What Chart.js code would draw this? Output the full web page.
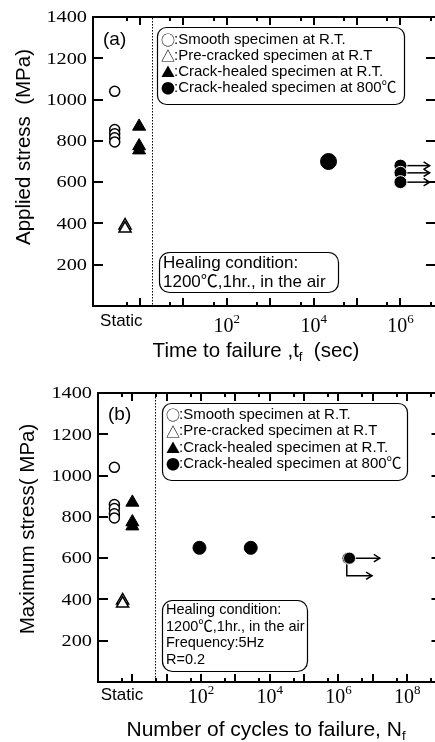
<!DOCTYPE html>
<html>
<head>
<meta charset="utf-8">
<script src="https://cdn.jsdelivr.net/npm/chart.js@4.4.0/dist/chart.umd.min.js"></script>
<style>
  html, body { margin: 0; padding: 0; background: #fff; overflow: hidden; width: 435px; height: 742px; }
  canvas { position: absolute; left: 0; }
  #chartA { top: 0; }
  #chartB { top: 371px; }
</style>
</head>
<body>
<canvas id="chartA" width="450" height="371"></canvas>
<canvas id="chartB" width="450" height="371"></canvas>
<script>
// ---- data, panel (a): static strength + static fatigue (time to failure, sec)
const aStaticPos = [0.26, 0.45, 0.95];           // x place of the three "Static" columns
const aSmoothStress = [1040, 855, 835, 815, 795];
const aPreCrackStress = [390, 375];
const aHealedRTStress = [870, 775, 755];
const aHealed800Time = [2.2e4];
const aHealed800Stress = [700];
const aRunoutTime = [1e6, 1e6, 1e6];
const aRunoutStress = [680, 645, 600];
const aArrowEnd = 4.7e6;
const aDecadeLabels = [2, 4, 6];

// ---- data, panel (b): cyclic fatigue (cycles to failure)
const bStaticPos = [0.3, 0.52, 1.0];
const bSmoothStress = [1040, 860, 840, 815, 795];
const bPreCrackStress = [395, 380];
const bHealedRTStress = [870, 775, 755];
const bHealed800Cycles = [90, 2.8e3];
const bHealed800Stress = [650, 650];
const bRunoutCycles = [1.9e6, 2.1e6];
const bRunoutStress = [600, 600];
const bArrow1Cycles = [2.1e6, 1.6e7];
const bArrow1Stress = [600, 600];
const bArrow2Cycles = [1.75e6, 1.75e6, 9.5e6];
const bArrow2Stress = [600, 515, 515];
const bDecadeLabels = [2, 4, 6, 8];

const yTickValues = [200, 400, 600, 800, 1000, 1200, 1400];
const xMajorTicks = [1, 10, 100, 1e3, 1e4, 1e5, 1e6, 1e7, 1e8, 1e9];
const xMinorTicks = [0.5, 5, 50, 500, 5e3, 5e4, 5e5, 5e6, 5e7, 5e8];

const SANS = '"Liberation Sans", "Noto Sans CJK JP", sans-serif';
const SYM = '"Noto Sans CJK JP", sans-serif';
const SERIF = '"Liberation Serif", serif';

function pts(xs, ys) { return xs.map((v, i) => ({ x: v, y: ys[i] })); }
function col(xv, ys) { return ys.map(v => ({ x: xv, y: v })); }

function marker(style, r, fill, border, bw) {
  return { pointStyle: style, pointRadius: r, pointHoverRadius: r, pointBackgroundColor: fill,
           pointBorderColor: border, pointBorderWidth: bw, showLine: false };
}
function arrowSet(data) {
  return { data: data, showLine: true, borderColor: '#000', borderWidth: 1.5, pointRadius: 0,
           fill: false, tension: 0, arrowHead: true, order: 5 };
}

function textRuns(ctx, runs, cx, ty) {
  let total = 0;
  runs.forEach(r => { ctx.font = r.font; total += ctx.measureText(r.t).width; });
  let tx = cx - total / 2;
  ctx.textAlign = 'left';
  runs.forEach(r => {
    ctx.font = r.font;
    ctx.fillText(r.t, tx, ty + (r.dy || 0));
    tx += ctx.measureText(r.t).width;
  });
}

function box(ctx, b) {
  ctx.save();
  ctx.fillStyle = '#fff';
  ctx.strokeStyle = '#000';
  ctx.lineWidth = 1.2;
  ctx.beginPath();
  ctx.roundRect(b.x + 0.5, b.y + 0.5, b.w, b.h, b.r);
  ctx.fill();
  ctx.stroke();
  ctx.fillStyle = '#000';
  ctx.textAlign = 'left';
  ctx.textBaseline = 'middle';
  b.lines.forEach((t, i) => {
    const ly = b.y + b.first + i * b.step;
    let lx = b.x + 4;
    if (b.symbols) {
      ctx.font = b.symFont;
      ctx.fillText(b.symbols[i], lx, ly);
      lx += ctx.measureText(b.symbols[i]).width - 1;
    }
    ctx.font = b.font;
    ctx.fillText(t, lx, ly);
  });
  ctx.restore();
}

// frame with inward ticks on all four sides
function drawFrame(ctx, a, xs, ys) {
  ctx.save();
  ctx.strokeStyle = '#000';
  ctx.lineWidth = 2;
  ctx.strokeRect(a.left, a.top, a.right - a.left, a.bottom - a.top);
  ctx.lineWidth = 2;
  const marks = xMajorTicks.map(v => [v, 8]).concat(xMinorTicks.map(v => [v, 4]));
  marks.forEach(m => {
    const px = Math.round(xs.getPixelForValue(m[0]));
    if (px < a.left + 2 || px > a.right - 2) return;
    ctx.beginPath();
    ctx.moveTo(px, a.bottom); ctx.lineTo(px, a.bottom - m[1]);
    ctx.moveTo(px, a.top); ctx.lineTo(px, a.top + m[1]);
    ctx.stroke();
  });
  yTickValues.forEach(v => {
    if (v >= 1400) return;
    const py = Math.round(ys.getPixelForValue(v));
    ctx.beginPath();
    ctx.moveTo(a.left, py); ctx.lineTo(a.left + 10, py);
    ctx.moveTo(a.right, py); ctx.lineTo(a.right - 10, py);
    ctx.stroke();
  });
  ctx.restore();
}

function panelPlugin(cfg) {
  return {
    id: 'panel' + cfg.letter[0],
    afterDatasetsDraw(chart) {
      const ctx = chart.ctx;
      // open arrow heads at the end of the run-out arrows
      chart.data.datasets.forEach((ds, i) => {
        if (!ds.arrowHead) return;
        const el = chart.getDatasetMeta(i).data;
        const p1 = el[el.length - 2], p2 = el[el.length - 1];
        const ang = Math.atan2(p2.y - p1.y, p2.x - p1.x);
        ctx.save();
        ctx.strokeStyle = '#000';
        ctx.lineWidth = 1.5;
        ctx.beginPath();
        ctx.moveTo(p2.x - 7 * Math.cos(ang - 0.55), p2.y - 7 * Math.sin(ang - 0.55));
        ctx.lineTo(p2.x, p2.y);
        ctx.lineTo(p2.x - 7 * Math.cos(ang + 0.55), p2.y - 7 * Math.sin(ang + 0.55));
        ctx.stroke();
        ctx.restore();
      });
    },
    afterDraw(chart) {
      const ctx = chart.ctx;
      const a = chart.chartArea;
      const xs = chart.scales.x, ys = chart.scales.y;
      drawFrame(ctx, a, xs, ys);

      // dotted divider between "Static" and the log part
      ctx.save();
      ctx.strokeStyle = '#000';
      ctx.lineWidth = 1;
      ctx.setLineDash([1.5, 1.5]);
      const dx = Math.round(xs.getPixelForValue(cfg.divider)) + 0.5;
      ctx.beginPath(); ctx.moveTo(dx, a.top + 1); ctx.lineTo(dx, a.bottom - 1); ctx.stroke();
      ctx.restore();

      cfg.boxes.forEach(b => box(ctx, b));

      ctx.save();
      ctx.fillStyle = '#000';
      // y tick labels (wide serif)
      ctx.font = '16.5px ' + SERIF;
      ctx.textAlign = 'right';
      ctx.textBaseline = 'middle';
      yTickValues.forEach(v => {
        const py = ys.getPixelForValue(v);
        ctx.save();
        ctx.translate(a.left - 6, py + 1);
        ctx.scale(1.23, 1);
        ctx.fillText(String(v), 0, 0);
        ctx.restore();
      });

      // x tick labels
      ctx.textBaseline = 'alphabetic';
      textRuns(ctx, [{ t: 'Static', font: '17px ' + SANS }], xs.getPixelForValue(cfg.staticLabelAt), a.bottom + cfg.staticDy);
      cfg.decades.forEach(e => {
        textRuns(ctx, [{ t: '10', font: '20px ' + SERIF },
                       { t: String(e), font: '13px ' + SERIF, dy: -9 }],
                 xs.getPixelForValue(Math.pow(10, e)), a.bottom + cfg.decadeDy);
      });

      // axis titles
      textRuns(ctx, cfg.xTitle, cfg.xTitleX, cfg.xTitleY);
      ctx.save();
      ctx.translate(cfg.yTitleX, cfg.yTitleY);
      ctx.rotate(-Math.PI / 2);
      ctx.textAlign = 'center';
      ctx.textBaseline = 'middle';
      ctx.font = '20.5px ' + SANS;
      ctx.fillText(cfg.yTitle, 0, 0);
      ctx.restore();

      // panel letter
      ctx.font = '19px ' + SANS;
      ctx.textAlign = 'left';
      ctx.textBaseline = 'middle';
      ctx.fillText(cfg.letter[0], cfg.letter[1], cfg.letter[2]);
      ctx.restore();
    }
  };
}

function makeChart(id, datasets, xmin, xmax, padding, cfg) {
  return new Chart(document.getElementById(id).getContext('2d'), {
    type: 'scatter',
    data: { datasets: datasets },
    options: {
      responsive: false,
      animation: false,
      layout: { padding: padding },
      plugins: { legend: { display: false }, tooltip: { enabled: false } },
      scales: {
        x: { type: 'logarithmic', min: xmin, max: xmax, display: false },
        y: { type: 'linear', min: 0, max: 1400, display: false }
      }
    },
    plugins: [panelPlugin(cfg)]
  });
}

const legendSymbols = ['\u25cb', '\u25b3', '\u25b2', '\u25cf'];
const legendLines = [
  ':Smooth specimen at R.T.',
  ':Pre-cracked specimen at R.T',
  ':Crack-healed specimen at R.T.',
  ':Crack-healed specimen at 800\u2103'
];

// ---- panel (a)
const aArrows = aRunoutTime.map((t, i) => arrowSet([{ x: t, y: aRunoutStress[i] }, { x: aArrowEnd, y: aRunoutStress[i] }]));
makeChart('chartA', [
  Object.assign({ data: col(aStaticPos[0], aSmoothStress) }, marker('circle', 5, '#fff', '#000', 1.5)),
  Object.assign({ data: col(aStaticPos[1], aPreCrackStress) }, marker('triangle', 7, '#fff', '#000', 1.5)),
  Object.assign({ data: col(aStaticPos[2], aHealedRTStress) }, marker('triangle', 7.5, '#000', '#000', 1)),
  Object.assign({ data: pts(aHealed800Time, aHealed800Stress) }, marker('circle', 8, '#000', '#000', 1)),
  Object.assign({ data: pts(aRunoutTime, aRunoutStress) }, marker('circle', 6.5, '#000', '#fff', 1))
].concat(aArrows), 0.0822, 6.6e6, { left: 93, right: 14, top: 17, bottom: 65 }, {
  divider: 1.9,
  staticLabelAt: 0.37,
  staticDy: 20,
  decadeDy: 26,
  decades: aDecadeLabels,
  xTitle: [{ t: 'Time to failure ,t', font: '20.5px ' + SANS },
           { t: 'f', font: '13px ' + SANS, dy: 4 },
           { t: '  (sec)', font: '20.5px ' + SANS }],
  xTitleX: 256, xTitleY: 357,
  yTitle: 'Applied stress  (MPa)', yTitleX: 24, yTitleY: 147,
  letter: ['(a)', 103, 40],
  boxes: [
    { x: 157, y: 27, w: 247, h: 77, r: 9, font: '15px ' + SANS, symFont: '14px ' + SYM,
      symbols: legendSymbols, lines: legendLines, first: 13, step: 16 },
    { x: 159, y: 252, w: 179, h: 40, r: 10, font: '17px ' + SANS,
      lines: ['Healing condition:', '1200\u2103,1hr., in the air'], first: 11, step: 19 }
  ]
});

// ---- panel (b)
makeChart('chartB', [
  Object.assign({ data: col(bStaticPos[0], bSmoothStress) }, marker('circle', 5, '#fff', '#000', 1.5)),
  Object.assign({ data: col(bStaticPos[1], bPreCrackStress) }, marker('triangle', 7, '#fff', '#000', 1.5)),
  Object.assign({ data: col(bStaticPos[2], bHealedRTStress) }, marker('triangle', 7.5, '#000', '#000', 1)),
  Object.assign({ data: pts(bHealed800Cycles, bHealed800Stress) }, marker('circle', 6.5, '#000', '#000', 1)),
  Object.assign({ data: pts(bRunoutCycles, bRunoutStress) }, marker('circle', 6, '#000', '#fff', 0.8)),
  arrowSet(pts(bArrow1Cycles, bArrow1Stress)),
  arrowSet(pts(bArrow2Cycles, bArrow2Stress))
], 0.1, 1e9, { left: 98, right: 4, top: 22, bottom: 60 }, {
  divider: 4.6,
  staticLabelAt: 0.5,
  staticDy: 18,
  decadeDy: 21,
  decades: bDecadeLabels,
  xTitle: [{ t: 'Number of cycles to failure, N', font: '21px ' + SANS },
           { t: 'f', font: '13px ' + SANS, dy: 4 }],
  xTitleX: 266, xTitleY: 365,
  yTitle: 'Maximum stress( MPa)', yTitleX: 28, yTitleY: 158,
  letter: ['(b)', 108, 44],
  boxes: [
    { x: 162, y: 32, w: 245, h: 77, r: 9, font: '15px ' + SANS, symFont: '14px ' + SYM,
      symbols: legendSymbols, lines: legendLines, first: 12, step: 16.3 },
    { x: 162, y: 229, w: 145, h: 71, r: 10, font: '14.5px ' + SANS,
      lines: ['Healing condition:', '1200\u2103,1hr., in the air', 'Frequency:5Hz', 'R=0.2'],
      first: 10, step: 16.7 }
  ]
});
</script>
</body>
</html>
